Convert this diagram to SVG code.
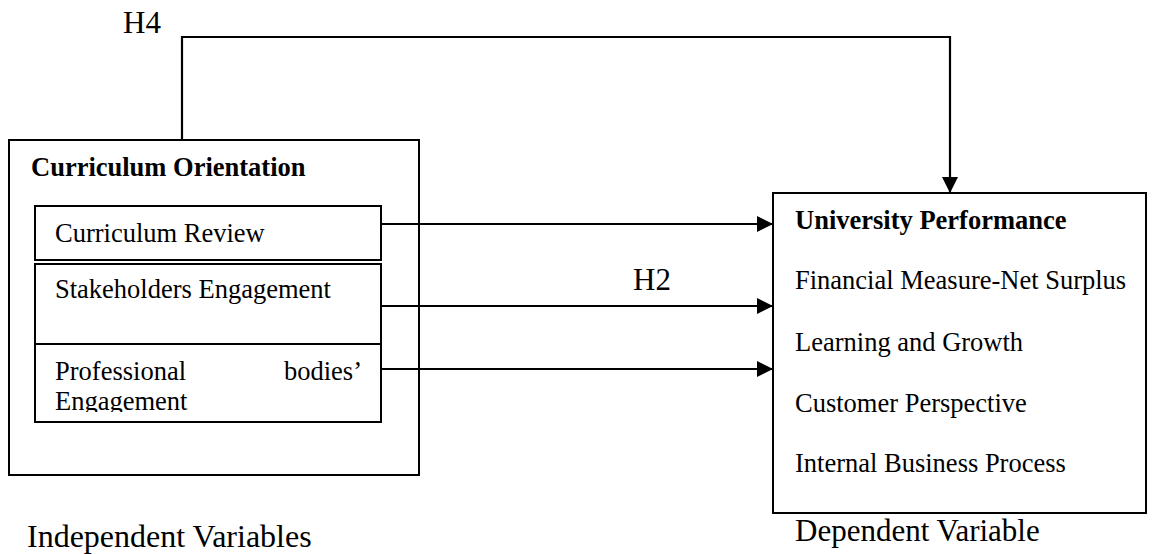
<svg xmlns="http://www.w3.org/2000/svg" width="1152" height="554" viewBox="0 0 1152 554">
  <style>
    .box { fill: #fff; stroke: #000; stroke-width: 2; }
    .wire { fill: none; stroke: #000; stroke-width: 2.2; }
    .t { font-family: "Liberation Serif", "Times New Roman", serif; font-size: 26.5px; fill: #000; }
    .b { font-weight: bold; }
    .big { font-size: 31px; }
  </style>
  <defs>
    <marker id="head" viewBox="0 0 16 16" refX="16" refY="8" markerWidth="16" markerHeight="16" markerUnits="userSpaceOnUse" orient="auto">
      <path d="M0,0 L16,8 L0,16 Z" fill="#000"/>
    </marker>
    <clipPath id="profClip">
      <rect x="35" y="344" width="346" height="68"/>
    </clipPath>
  </defs>

  <rect width="1152" height="554" fill="#fff"/>

  <!-- independent variables block -->
  <g id="curriculum-orientation">
    <rect class="box" x="9" y="140" width="410" height="335"/>
    <text class="t b" x="31" y="176">Curriculum Orientation</text>
  </g>
  <g id="curriculum-review">
    <rect class="box" x="35" y="206" width="346" height="54"/>
    <text class="t" x="55" y="242">Curriculum Review</text>
  </g>
  <g id="stakeholders-engagement">
    <rect class="box" x="35" y="264" width="346" height="80"/>
    <text class="t" x="55" y="298">Stakeholders Engagement</text>
  </g>
  <g id="professional-engagement">
    <rect class="box" x="35" y="344" width="346" height="78"/>
    <g clip-path="url(#profClip)">
      <text class="t" x="55" y="380">Professional</text>
      <text class="t" x="362" y="380" text-anchor="end">bodies’</text>
      <text class="t" x="55" y="410">Engagement</text>
    </g>
  </g>

  <!-- dependent variable block -->
  <g id="university-performance">
    <rect class="box" x="773" y="193" width="373" height="320"/>
    <text class="t b" x="795" y="229">University Performance</text>
    <text class="t" x="795" y="289">Financial Measure-Net Surplus</text>
    <text class="t" x="795" y="351">Learning and Growth</text>
    <text class="t" x="795" y="412">Customer Perspective</text>
    <text class="t" x="795" y="472">Internal Business Process</text>
  </g>

  <!-- connectors -->
  <g id="connectors">
    <polyline class="wire" points="182,140 182,37 950,37 950,193" marker-end="url(#head)"/>
    <line class="wire" x1="381" y1="224" x2="773" y2="224" marker-end="url(#head)"/>
    <line class="wire" x1="381" y1="306" x2="773" y2="306" marker-end="url(#head)"/>
    <line class="wire" x1="381" y1="369" x2="773" y2="369" marker-end="url(#head)"/>
  </g>

  <!-- labels -->
  <g id="labels">
    <text class="t big" x="123" y="33">H4</text>
    <text class="t big" x="633" y="290">H2</text>
    <text class="t big" x="27" y="547" style="font-size:32px">Independent Variables</text>
    <text class="t big" x="795" y="541">Dependent Variable</text>
  </g>
</svg>
